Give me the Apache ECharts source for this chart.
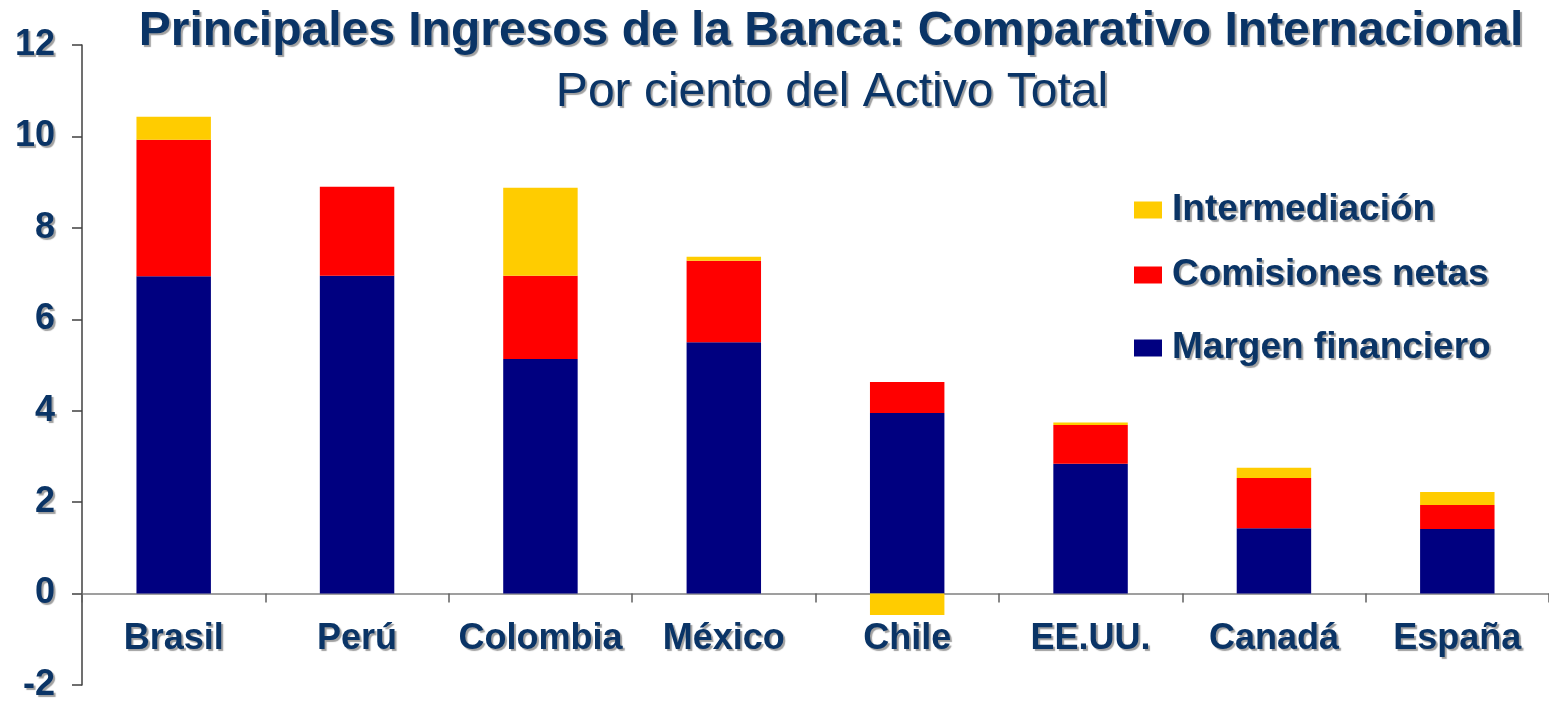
<!DOCTYPE html>
<html>
<head>
<meta charset="utf-8">
<script src="https://cdn.jsdelivr.net/npm/echarts@6/dist/echarts.min.js"></script>
<style>
  html, body { margin: 0; padding: 0; background: #ffffff; }
  #chart { width: 1549px; height: 707px; }
</style>
</head>
<body>
<div id="chart"></div>
<script>
// Ingresos principales de la banca, por ciento del activo total
const paises = ['Brasil', 'Perú', 'Colombia', 'México', 'Chile', 'EE.UU.', 'Canadá', 'España'];
const margenFinanciero = [6.94, 6.95, 5.13, 5.50, 3.95, 2.84, 1.43, 1.41];
const comisionesNetas = [2.99, 1.95, 1.82, 1.78, 0.68, 0.85, 1.10, 0.53];
const intermediacion = [0.50, 0.00, 1.93, 0.09, -0.47, 0.05, 0.22, 0.28];
const ejeY = { min: -2, max: 12, interval: 2 };

const azulTexto = '#0A3466';
const fuente = 'Liberation Sans, Arial, sans-serif';
const sombra = { textShadowColor: 'rgba(120,120,120,0.7)', textShadowOffsetX: 2, textShadowOffsetY: 2, textShadowBlur: 1 };

// Área de trazado
const H = 707, gTop = 45, gBottom = 22;
const alto = H - gTop - gBottom;
// El eje de categorías se dibuja sobre la línea del cero
const yCero = gTop + alto * ejeY.max / (ejeY.max - ejeY.min);
const desplazamientoX = -((H - gBottom) - yCero);

function leyenda(nombre, top) {
  return {
    orient: 'vertical',
    left: 1129, top: top,
    itemWidth: 28, itemHeight: 17,
    icon: 'rect',
    data: [nombre],
    textStyle: Object.assign({ fontFamily: fuente, fontWeight: 'bold', fontSize: 37, lineHeight: 40, color: azulTexto, padding: [0, 0, 0, 5] }, sombra)
  };
}

const chart = echarts.init(document.getElementById('chart'));
chart.setOption({
  animation: false,
  backgroundColor: '#ffffff',
  title: [
    {
      text: 'Principales Ingresos de la Banca: Comparativo Internacional',
      left: 826, top: 3, textAlign: 'center',
      textStyle: Object.assign({ fontFamily: fuente, fontWeight: 'bold', fontSize: 48, color: azulTexto }, sombra)
    },
    {
      text: 'Por ciento del Activo Total',
      left: 827, top: 64, textAlign: 'center',
      textStyle: Object.assign({ fontFamily: fuente, fontWeight: 'normal', fontSize: 48, color: azulTexto }, sombra)
    }
  ],
  legend: [
    leyenda('Intermediación', 185),
    leyenda('Comisiones netas', 250),
    leyenda('Margen financiero', 323)
  ],
  grid: { left: 82, right: 0, top: gTop, bottom: gBottom, outerBoundsMode: 'none', containLabel: false },
  xAxis: {
    type: 'category',
    data: paises,
    offset: desplazamientoX,
    axisLine: { onZero: false, lineStyle: { color: '#808080', width: 1.5 } },
    axisTick: { show: true, length: 9, inside: false, lineStyle: { color: '#606060', width: 1.5 } },
    axisLabel: Object.assign({ interval: 0, margin: 28, fontFamily: fuente, fontWeight: 'bold', fontSize: 36, color: azulTexto }, sombra),
    splitLine: { show: false }
  },
  yAxis: {
    type: 'value',
    min: ejeY.min, max: ejeY.max, interval: ejeY.interval,
    axisLine: { show: true, lineStyle: { color: '#404040', width: 1.5 } },
    axisTick: { show: true, length: 10, lineStyle: { color: '#404040', width: 1.5 } },
    axisLabel: Object.assign({ margin: 27, fontFamily: fuente, fontWeight: 'bold', fontSize: 36, color: azulTexto }, sombra),
    splitLine: { show: false }
  },
  series: [
    { name: 'Margen financiero', type: 'bar', stack: 'ingresos', data: margenFinanciero, barWidth: '40.6%', itemStyle: { color: '#000080' } },
    { name: 'Comisiones netas', type: 'bar', stack: 'ingresos', data: comisionesNetas, barWidth: '40.6%', itemStyle: { color: '#FF0000' } },
    { name: 'Intermediación', type: 'bar', stack: 'ingresos', data: intermediacion, barWidth: '40.6%', itemStyle: { color: '#FFCC00' } }
  ]
});
</script>
</body>
</html>
